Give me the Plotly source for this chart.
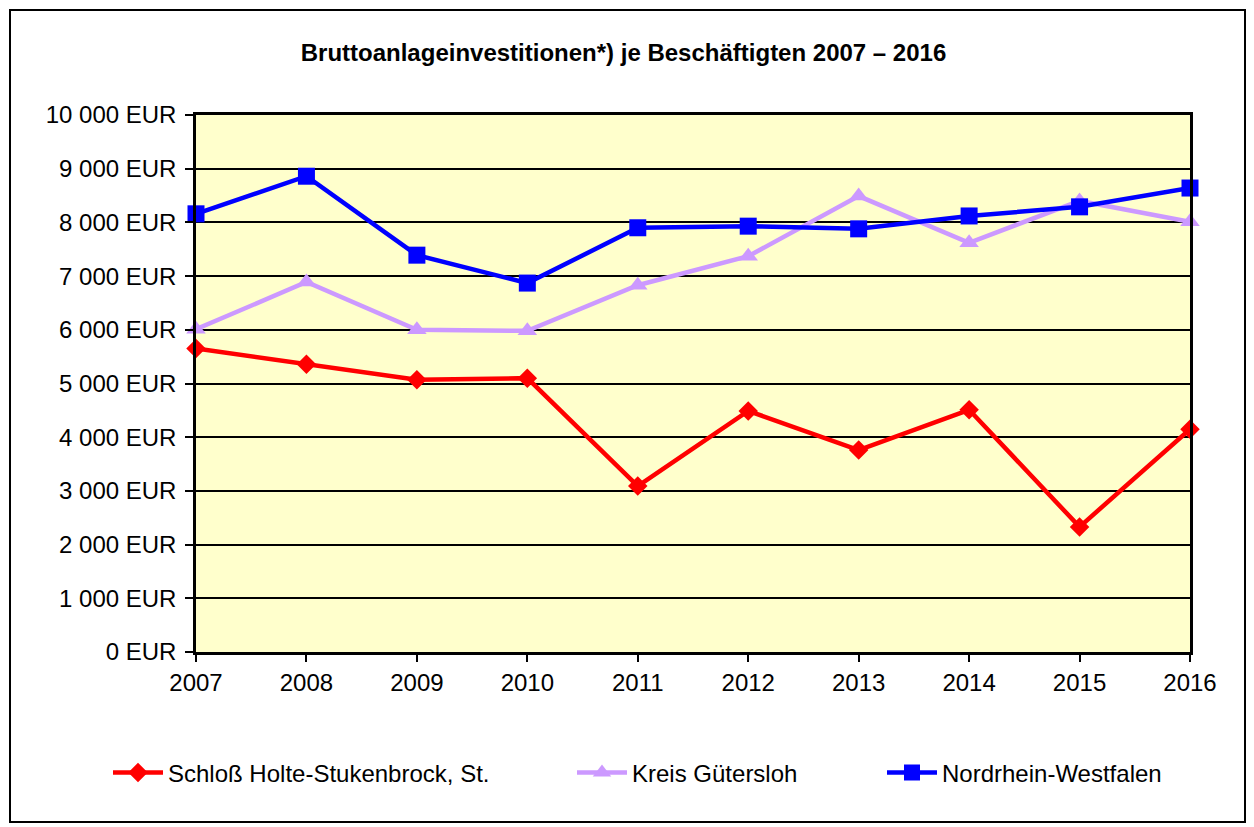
import plotly.graph_objects as go

years = [2007, 2008, 2009, 2010, 2011, 2012, 2013, 2014, 2015, 2016]
schloss = [5650, 5360, 5070, 5100, 3090, 4490, 3760, 4510, 2330, 4150]
kreis = [6010, 6890, 6000, 5980, 6830, 7370, 8490, 7620, 8400, 8010]
nrw = [8160, 8860, 7390, 6870, 7900, 7930, 7880, 8120, 8290, 8640]
series_names = ["Schloß Holte-Stukenbrock, St.", "Kreis Gütersloh", "Nordrhein-Westfalen"]
y_ticks = [0, 1000, 2000, 3000, 4000, 5000, 6000, 7000, 8000, 9000, 10000]
y_tick_labels = ["0 EUR", "1 000 EUR", "2 000 EUR", "3 000 EUR", "4 000 EUR", "5 000 EUR",
                 "6 000 EUR", "7 000 EUR", "8 000 EUR", "9 000 EUR", "10 000 EUR"]
title = "Bruttoanlageinvestitionen*) je Beschäftigten 2007 – 2016"

FONT = "Liberation Sans, Arial, sans-serif"

# page is rendered with an 8px body margin, so figure coords are shifted by -8
L, T, PW, PH = 188, 107, 994, 537
W, H = 1254, 827

fig = go.Figure()
fig.add_trace(go.Scatter(x=years, y=schloss, name=series_names[0], mode="lines+markers",
                         line=dict(color="#FF0000", width=4.5),
                         marker=dict(symbol="diamond", size=15, color="#FF0000"),
                         cliponaxis=False, legend="legend"))
fig.add_trace(go.Scatter(x=years, y=kreis, name=series_names[1], mode="lines+markers",
                         line=dict(color="#CC99FF", width=4.5),
                         marker=dict(symbol="triangle-up", size=17, color="#CC99FF"),
                         cliponaxis=False, legend="legend2"))
fig.add_trace(go.Scatter(x=years, y=nrw, name=series_names[2], mode="lines+markers",
                         line=dict(color="#0000FF", width=4.5),
                         marker=dict(symbol="square", size=17, color="#0000FF"),
                         cliponaxis=False, legend="legend3"))

leg_y = (T + PH - 765) / PH
legend_common = dict(orientation="h", yanchor="middle", y=leg_y, xanchor="left",
                     bgcolor="rgba(0,0,0,0)", itemwidth=50,
                     font=dict(family=FONT, size=24, color="black"))

def px_x(p):
    return (p - L) / PW

def px_y(p):
    return (T + PH - p) / PH

fig.update_layout(
    width=W, height=H,
    margin=dict(l=L, r=W - L - PW, t=T, b=H - T - PH, autoexpand=False),
    paper_bgcolor="white",
    plot_bgcolor="#FFFFCC",
    font=dict(family=FONT, size=24, color="black"),
    title=dict(text="<b>" + title + "</b>", x=(615.5) / W, xanchor="center",
               y=1 - 45 / H, yanchor="middle",
               font=dict(family=FONT, size=24, color="black")),
    showlegend=True,
    legend=dict(x=px_x(100), **legend_common),
    legend2=dict(x=px_x(564), **legend_common),
    legend3=dict(x=px_x(874), **legend_common),
    xaxis=dict(range=[2007, 2016], tickvals=years, ticktext=[str(y) for y in years],
               showgrid=False, zeroline=False, showline=True, linecolor="black", linewidth=2.5,
               mirror=True, ticks="outside", ticklen=7, tickwidth=2, tickcolor="black",
               tickfont=dict(family=FONT, size=24)),
    yaxis=dict(range=[0, 10000], tickvals=y_ticks, ticktext=y_tick_labels,
               showgrid=True, gridcolor="black", gridwidth=2, zeroline=False,
               showline=True, linecolor="black", linewidth=2.5, mirror=True,
               ticks="outside", ticklen=8, tickwidth=2, tickcolor="black",
               ticklabelstandoff=4,
               tickfont=dict(family=FONT, size=24)),
    shapes=[dict(type="rect", xref="paper", yref="paper",
                 x0=px_x(2), x1=px_x(1237),
                 y0=px_y(814), y1=px_y(2),
                 line=dict(color="black", width=2), fillcolor="rgba(0,0,0,0)", layer="below")],
)

fig.write_html("out.html")
